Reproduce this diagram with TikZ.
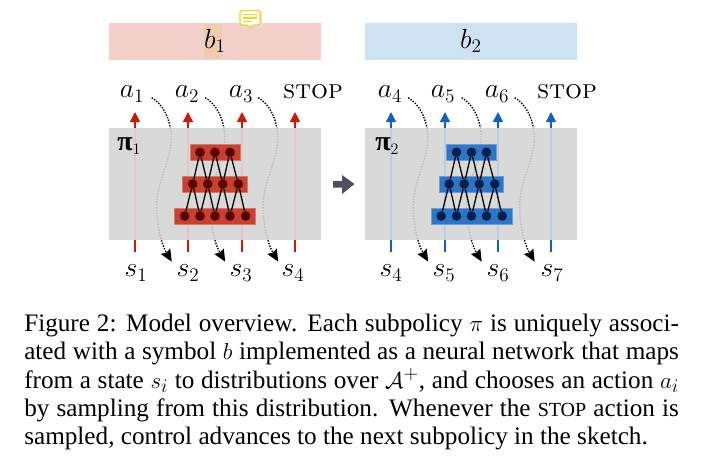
\documentclass[tikz,border=0pt]{standalone}
\usepackage{amsmath}
\usepackage[no-math]{fontspec}
\newfontfamily\capfont{Liberation Serif}
\usetikzlibrary{arrows.meta,calc}
\definecolor{redbar}{HTML}{F4D0CB}
\definecolor{bluebar}{HTML}{CFE2F3}
\definecolor{highlight}{HTML}{EFCBB0}
\definecolor{redline}{HTML}{CC1A06}
\definecolor{blueline}{HTML}{0F62BE}
\definecolor{redfade}{HTML}{E0C8C8}
\definecolor{bluefade}{HTML}{BCCBDF}
\definecolor{redbox}{HTML}{C8402F}
\definecolor{bluebox}{HTML}{2F75C5}
\definecolor{redunit}{HTML}{5A0000}
\definecolor{blueunit}{HTML}{041E4F}
\definecolor{notey}{HTML}{EFD61C}
\definecolor{blockarrow}{HTML}{4E5258}
\tikzset{
  x=0.75pt,y=-0.75pt,
  lbl/.style={inner sep=0pt,font=\fontsize{20.74}{24}\selectfont},
  stoplbl/.style={inner sep=0pt,font=\fontsize{20}{24}\selectfont},
  pilbl/.style={inner sep=0pt,font=\fontsize{17.28}{20}\selectfont},
  act/.style={line width=1.1pt,-{Triangle[length=7.5pt,width=7.5pt]}},
  fade/.style={line width=1.1pt},
  traj/.style={line width=1.05pt,dash pattern=on 1.05pt off 1.05pt,-{Stealth[length=9pt,width=8pt,inset=1pt]},black},
  panel/.style={fill=black!17,opacity=0.88,draw=none},
  unit/.style={circle,minimum size=7.2pt,inner sep=0pt,draw=none},
  wire/.style={line width=0.95pt,black}
}
\newcommand{\netw}[4]{% prefix, box color, unit color, xshift
  \begin{scope}[xshift=#4*0.75pt]
    \fill[#2,draw=#2!70!white,line width=.5pt] (190,144.5) rectangle (240,160);
    \fill[#2,draw=#2!70!white,line width=.5pt] (182.7,176.3) rectangle (247.3,192);
    \fill[#2,draw=#2!70!white,line width=.5pt] (174.7,208) rectangle (255.7,224);
    \foreach \n/\xx in {1/200,2/215,3/230}
      \node[unit,fill=#3] (#1t\n) at (\xx,152.3) {};
    \foreach \n/\xx in {1/192.7,2/207.7,3/222.7,4/238.3}
      \node[unit,fill=#3] (#1m\n) at (\xx,184) {};
    \foreach \n/\xx in {1/184.7,2/200,3/215,4/230,5/245.7}
      \node[unit,fill=#3] (#1b\n) at (\xx,216) {};
    \foreach \i/\j in {1/1,1/2,2/2,2/3,3/3,3/4}
      \draw[wire] (#1t\i) -- (#1m\j);
    \foreach \i/\j in {1/1,1/2,2/2,2/3,3/3,3/4,4/4,4/5}
      \draw[wire] (#1m\i) -- (#1b\j);
  \end{scope}
}
\newcommand{\dottraj}[2]{%
  \draw[traj] (#1) .. controls ($(#1)+(10,6)$) and ($(#1)+(18,18)$) .. ($(#1)+(19.5,37)$)
    .. controls ($(#1)+(20.5,62)$) and ($(#1)+(5.5,82)$) .. ($(#1)+(5,107)$)
    .. controls ($(#1)+(4.5,127)$) and ($(#2)+(-10,-17)$) .. (#2);
}
\begin{document}
\begin{tikzpicture}
\useasboundingbox (0,0) rectangle (713,471);
% top bars
\fill[redbar] (109,23) rectangle (321,60);
\fill[bluebar] (365,23) rectangle (577,60);
\fill[highlight] (204,24) rectangle (222,58);
\node[lbl] (b1) at (215,41) {$b_1$};
\node[lbl] (b2) at (471,41) {$b_2$};
% note icon
\fill[black!12] (241,12) rectangle (262,27);
\draw[notey,fill=white,line width=1pt,rounded corners=1pt] (240,10.5) -- (260,10.5) -- (260,25) -- (252.5,25) -- (250,28) -- (247.5,25) -- (240,25) -- cycle;
\draw[notey,line width=1.1pt] (243,14.5) -- (257,14.5) (243,18) -- (257,18) (243,21.5) -- (252,21.5);
% labels
\node[lbl] (a1) at (132,94) {$a_1$};
\node[lbl] (a2) at (187,94) {$a_2$};
\node[lbl] (a3) at (241,94) {$a_3$};
\node[stoplbl] (stopa) at (313,92) {\textsc{stop}};
\node[lbl] (a4) at (390,94) {$a_4$};
\node[lbl] (a5) at (443,94) {$a_5$};
\node[lbl] (a6) at (497,94) {$a_6$};
\node[stoplbl] (stopb) at (567,92) {\textsc{stop}};
\node[lbl] (s1) at (136,273) {$s_1$};
\node[lbl] (s2) at (188,273) {$s_2$};
\node[lbl] (s3) at (241,273) {$s_3$};
\node[lbl] (s4) at (293,273) {$s_4$};
\node[lbl] (s4b) at (391,273) {$s_4$};
\node[lbl] (s5) at (444,273) {$s_5$};
\node[lbl] (s6) at (498,273) {$s_6$};
\node[lbl] (s7) at (552,273) {$s_7$};
% action arrows
\foreach \xx/\k in {135/1,188/2,242/3,295/4}{
  \coordinate (ri\k) at (\xx,252);
  \coordinate (ro\k) at (\xx,112);
  \draw[act,redline] (ri\k) -- (ro\k);
}
\foreach \xx/\k in {391/1,445/2,498/3,551/4}{
  \coordinate (bi\k) at (\xx,252);
  \coordinate (bo\k) at (\xx,112);
  \draw[act,blueline] (bi\k) -- (bo\k);
}
% dotted transitions
\foreach \k in {0,53.5,106.5,256.5,310,363}{
  \coordinate (tb) at ($(151.7,97.7)+(\k,0)$);
  \coordinate (te) at ($(171.7,261.7)+(\k,0)$);
  \dottraj{tb}{te}
}
% grey panels over the lines
\fill[panel] (109,128) rectangle (321,240);
\fill[panel] (365,128) rectangle (577,240);
% arrows seen faded through the panels
\foreach \xx in {135,188,242,295}
  \draw[fade,redfade] (\xx,128) -- (\xx,240);
\foreach \xx in {391,445,498,551}
  \draw[fade,bluefade] (\xx,128) -- (\xx,240);
\node[pilbl,anchor=west] (pi1) at (117,146) {{\capfont\bfseries\fontsize{21}{24}\selectfont π}$_1$};
\node[pilbl,anchor=west] (pi2) at (375,146) {{\capfont\bfseries\fontsize{21}{24}\selectfont π}$_2$};
% networks
\netw{p}{redbox}{redunit}{0}
\netw{q}{bluebox}{blueunit}{256.5}
% block arrow
\fill[blockarrow] (333,181) -- (342,181) -- (342,175) -- (354.5,184) -- (342,194) -- (342,187.5) -- (333,187.5) -- cycle;
% caption
\node[anchor=north west,inner sep=0pt,text width=491pt,align=justify,font=\capfont\fontsize{18.9}{21.3}\selectfont] (cap) at (24,313.5)
{\parfillskip=0pt Figure 2: Model overview. Each subpolicy $\pi$ is uniquely associ-\linebreak
ated with a symbol $b$ implemented as a neural network that maps\linebreak
from a state $s_i$ to distributions over $\mathcal{A}^+$, and chooses an action $a_i$\linebreak
by sampling from this distribution. Whenever the {\fontsize{15}{15}\selectfont STOP} action is\linebreak
sampled, control advances to the next subpolicy in the sketch.\hspace*{22pt}};
\end{tikzpicture}
\end{document}
